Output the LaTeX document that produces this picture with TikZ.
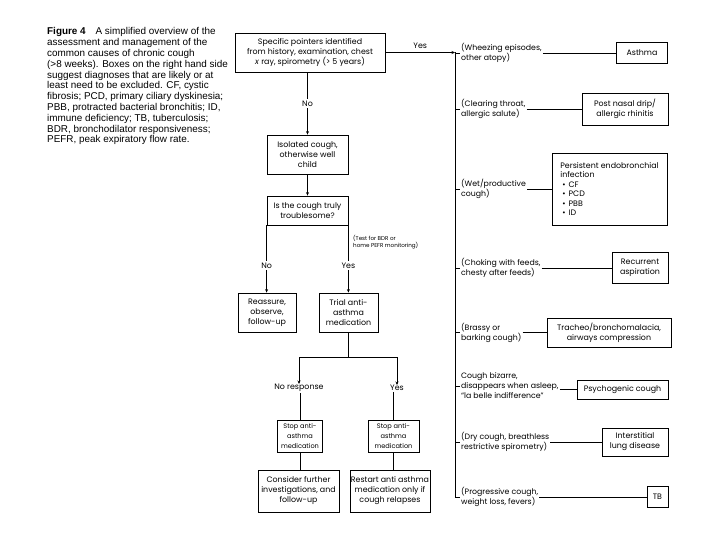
\documentclass[tikz,border=0pt]{standalone}
\usepackage{fontspec}
\setmainfont{Poppins}
\newfontfamily\capfont{Liberation Sans}
\usetikzlibrary{arrows.meta}
\newcommand\boxfont{\fontsize{7.9}{10}\selectfont}
\newcommand\stopfont{\fontsize{6.6}{10}\selectfont}
\newcommand\bulfont{\fontsize{7.9}{9.4}\selectfont}
\newcommand\labfont{\fontsize{7.8}{10}\selectfont}
\newcommand\tinyfont{\fontsize{5.6}{7}\selectfont}
\begin{document}
\begin{tikzpicture}[x=1pt,y=-1pt,
  box/.style={draw, line width=0.8pt, inner sep=1pt, align=center, font=\boxfont},
  lab/.style={align=left, font=\labfont, inner sep=1pt, anchor=west},
  conn/.style={line width=0.8pt},
  arr/.style={conn, -{Stealth[length=3.5pt,width=3pt]}},
  onl/.style={fill=white, font=\boxfont, inner sep=1.5pt},
]
\useasboundingbox[fill=white] (0,0) rectangle (720,540);

% caption
\node[anchor=north west, align=left, inner sep=0pt,
      font=\capfont\fontsize{9.9}{10.8}\selectfont] (cap) at (47,27.5)
 {\textbf{Figure 4}\quad A simplified overview of the\\
  assessment and management of the\\
  common causes of chronic cough\\
  (>8 weeks). Boxes on the right hand side\\
  suggest diagnoses that are likely or at\\
  least need to be excluded. CF, cystic\\
  fibrosis; PCD, primary ciliary dyskinesia;\\
  PBB, protracted bacterial bronchitis; ID,\\
  immune deficiency; TB, tuberculosis;\\
  BDR, bronchodilator responsiveness;\\
  PEFR, peak expiratory flow rate.};

% left flow
\node[box, minimum width=150pt, minimum height=39pt] (top) at (310,52.5)
 {Specific pointers identified\\from history, examination, chest\\\textit{x} ray, spirometry (> 5 years)};
\node[box, minimum width=81pt, minimum height=39pt] (iso) at (307.5,154.5)
 {Isolated cough,\\otherwise well\\child};
\node[box, minimum width=81pt, minimum height=29pt] (trb) at (307.5,210.5)
 {Is the cough truly\\troublesome?};
\node[anchor=west, align=left, inner sep=0pt, font=\tinyfont] (test) at (353,242)
 {(Test for BDR or\\home PEFR monitoring)};
\node[box, minimum width=58pt, minimum height=39pt] (reas) at (267,312.5)
 {Reassure,\\observe,\\follow-up};
\node[box, minimum width=59pt, minimum height=39pt] (trial) at (348.5,312.5)
 {Trial anti-\\asthma\\medication};

\coordinate (bL) at (299,357);
\coordinate (bR) at (397,357);
\node[font=\boxfont, inner sep=1pt] (nores) at (299,388) {No response};
\node[font=\boxfont, inner sep=1pt] (yes3) at (397,388) {Yes};
\node[box, font=\stopfont, minimum width=45pt, minimum height=32pt] (stopL) at (300,436)
 {Stop anti-\\asthma\\medication};
\node[box, font=\stopfont, minimum width=51pt, minimum height=32pt] (stopR) at (393.5,436)
 {Stop anti-\\asthma\\medication};
\node[box, minimum width=81pt, minimum height=42pt] (cons) at (298.5,491)
 {Consider further\\investigations, and\\follow-up};
\node[box, minimum width=76pt, minimum height=42pt] (rest) at (390,491)
 {Restart anti asthma\\medication only if\\cough relapses};

\draw[arr] (top.south -| iso.north) -- node[onl] {No} (iso.north);
\draw[arr] (iso.south) -- (trb.north);
\draw[arr] (trb.south west) -- node[onl, pos=0.6] {No} (trb.south west |- reas.north);
\draw[arr] (trb.south east) -- node[onl, pos=0.6] {Yes} (trb.south east |- trial.north);
\draw[conn] (trial.south) -- (trial.south |- bL);
\draw[conn] (bL) -- (bR);
\draw[arr] (bL) -- ([yshift=-1pt]nores.north -| bL);
\draw[arr] (bR) -- ([yshift=-1pt]yes3.north -| bR);
\draw[conn] (nores.south -| stopL.north) -- (stopL.north);
\draw[conn] (yes3.south -| stopR.north) -- (stopR.north);
\draw[conn] (stopL.south) -- (stopL.south |- cons.north);
\draw[conn] (stopR.south) -- (stopR.south |- rest.north);

% right side
\coordinate (vt) at (455,52.5);
\coordinate (vb) at (455,497);
\draw[arr] (top.east) -- node[above=3pt, font=\boxfont, inner sep=1pt] (yes1) {Yes} (vt);
\draw[conn] (vt) -- (vb);

\node[lab] (l1) at (460,53) {(Wheezing episodes,\\other atopy)};
\node[lab] (l2) at (460,109) {(Clearing throat,\\allergic salute)};
\node[lab] (l3) at (460,189) {(Wet/productive\\cough)};
\node[lab] (l4) at (460,268) {(Choking with feeds,\\chesty after feeds)};
\node[lab] (l5) at (460,332.5) {(Brassy or\\barking cough)};
\node[lab] (l6) at (460,386) {Cough bizarre,\\disappears when asleep,\\``la belle indifference''};
\node[lab] (l7) at (460,442) {(Dry cough, breathless\\restrictive spirometry)};
\node[lab] (l8) at (460,497) {(Progressive cough,\\weight loss, fevers)};

\node[box, minimum width=51pt, minimum height=21pt] (b1) at (642,53) {Asthma};
\node[box, minimum width=86pt, minimum height=32pt] (b2) at (625,109) {Post nasal drip/\\allergic rhinitis};
\node[box, minimum width=115pt, minimum height=72pt, align=left, font=\bulfont] (b3) at (609.5,189)
 {Persistent endobronchial\\infection\\
  \hspace*{2pt}\textbullet\hspace{3pt}CF\\
  \hspace*{2pt}\textbullet\hspace{3pt}PCD\\
  \hspace*{2pt}\textbullet\hspace{3pt}PBB\\
  \hspace*{2pt}\textbullet\hspace{3pt}ID};
\node[box, minimum width=56pt, minimum height=31pt] (b4) at (640,268) {Recurrent\\aspiration};
\node[box, minimum width=124pt, minimum height=29pt] (b5) at (609,332.5) {Tracheo/bronchomalacia,\\airways compression};
\node[box, minimum width=91pt, minimum height=19pt] (b6) at (622.5,389.5) {Psychogenic cough};
\node[box, minimum width=66pt, minimum height=28pt] (b7) at (635,442) {Interstitial\\lung disease};
\node[box, minimum width=21pt, minimum height=21pt] (b8) at (657.5,497) {TB};

\foreach \i in {1,...,8} {
  \draw[conn] (vt |- l\i.west) -- (l\i.west);
}
\draw[conn] (l1.east) -- (b1.west);
\draw[conn] (l2.east) -- (b2.west);
\draw[conn] (l3.east) -- (b3.west);
\draw[conn] (l4.east) -- (b4.west);
\draw[conn] (l5.east) -- (b5.west);
\draw[conn] (b6.west -| l6.east) -- (b6.west);
\draw[conn] (l7.east) -- (b7.west);
\draw[conn] (l8.east) -- (b8.west);
\end{tikzpicture}
\end{document}
